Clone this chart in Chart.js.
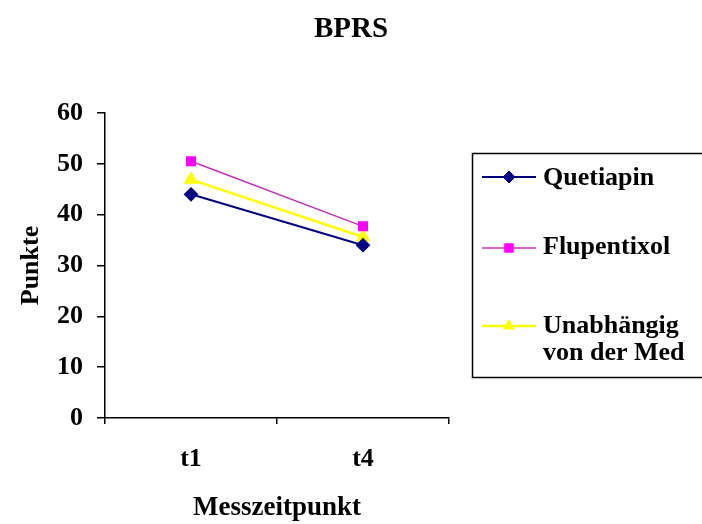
<!DOCTYPE html>
<html>
<head>
<meta charset="utf-8">
<script src="https://cdn.jsdelivr.net/npm/chart.js@4/dist/chart.umd.min.js"></script>
<style>
html,body{margin:0;padding:0;background:#fff;}
#wrap{width:702px;height:524px;}
</style>
</head>
<body>
<div id="wrap"><canvas id="c" width="702" height="524"></canvas></div>
<script>
const categories = ['t1', 't4'];
const quetiapin = [44, 34];
const flupentixol = [50.5, 37.7];
const unabhaengig = [46.9, 35.6];
const seriesNames = ['Quetiapin', 'Flupentixol', 'Unabhängig von der Med'];
const legendLines = [['Quetiapin'], ['Flupentixol'], ['Unabhängig', 'von der Med']];
const chartTitle = 'BPRS';
const yTicks = [0, 10, 20, 30, 40, 50, 60];

const FONT = "'Liberation Serif','Times New Roman',serif";

const boxLegend = {
  id: 'boxLegend',
  afterDraw(chart) {
    const ctx = chart.ctx;
    ctx.save();
    // centered title across the full canvas
    ctx.fillStyle = '#000';
    ctx.font = "bold 29px " + FONT;
    ctx.textAlign = 'center';
    ctx.textBaseline = 'middle';
    ctx.fillText(chartTitle, chart.width / 2, 30);

    ctx.strokeStyle = '#000';
    ctx.lineWidth = 1.5;
    ctx.strokeRect(472.5, 153.5, 240, 224);
    const rows = [{y:177, text:[178]}, {y:248, text:[247]}, {y:326, text:[326, 353]}];
    ctx.font = "bold 26px " + FONT;
    ctx.textBaseline = 'middle';
    ctx.textAlign = 'left';
    chart.data.datasets.forEach((ds, i) => {
      const r = rows[i];
      ctx.strokeStyle = ds.borderColor;
      ctx.lineWidth = ds.borderWidth;
      ctx.beginPath();
      ctx.moveTo(482, r.y);
      ctx.lineTo(536, r.y);
      ctx.stroke();
      ctx.fillStyle = ds.pointBackgroundColor;
      ctx.strokeStyle = ds.pointBorderColor;
      ctx.lineWidth = 1;
      Chart.helpers.drawPoint(ctx, {pointStyle: ds.pointStyle, radius: ds.pointRadius, rotation: 0, borderWidth: 1}, 509, r.y);
      ctx.fillStyle = '#000';
      legendLines[i].forEach((t, k) => ctx.fillText(t, 543, r.text[k]));
    });
    ctx.restore();
  }
};

new Chart(document.getElementById('c'), {
  type: 'line',
  data: {
    labels: categories,
    datasets: [
      {label: seriesNames[0], data: quetiapin, borderColor: '#000080', borderWidth: 2,
       pointStyle: 'rectRot', pointRadius: 6, pointBackgroundColor: '#000080', pointBorderColor: '#000080'},
      {label: seriesNames[1], data: flupentixol, borderColor: '#C030C0', borderWidth: 1.5,
       pointStyle: 'rect', pointRadius: 6, pointBackgroundColor: '#FF00FF', pointBorderColor: '#FF00FF'},
      {label: seriesNames[2], data: unabhaengig, borderColor: '#FFFF00', borderWidth: 2.5,
       pointStyle: 'triangle', pointRadius: 6, pointBackgroundColor: '#FFFF00', pointBorderColor: '#FFFF00'}
    ]
  },
  options: {
    responsive: false,
    animation: false,
    layout: {padding: {left: 0, right: 253, top: 113, bottom: 0}},
    plugins: {
      legend: {display: false},
      tooltip: {enabled: false},
      title: {display: false}
    },
    scales: {
      x: {
        offset: true,
        grid: {offset: true, drawOnChartArea: false, drawTicks: true, tickLength: 6, color: '#000', lineWidth: 1.5},
        border: {color: '#000', width: 1.5},
        ticks: {color: '#000', font: {family: FONT, size: 26, weight: 'bold'}, padding: 20, maxRotation: 0},
        title: {display: true, text: 'Messzeitpunkt', color: '#000', font: {family: FONT, size: 27, weight: 'bold'}, padding: {top: 0, bottom: 0}},
        afterFit(s) { s.height = 106; }
      },
      y: {
        min: 0, max: 60,
        afterBuildTicks(s) { s.ticks = yTicks.map(v => ({value: v})); },
        grid: {drawOnChartArea: false, drawTicks: true, tickLength: 8, color: '#000', lineWidth: 1.5},
        border: {color: '#000', width: 1.5},
        ticks: {color: '#000', font: {family: FONT, size: 26, weight: 'bold'}, padding: 14},
        title: {display: true, text: 'Punkte', color: '#000', font: {family: FONT, size: 26, weight: 'bold'}, padding: {top: 16, bottom: 0}},
        afterFit(s) { s.width = 105; }
      }
    }
  },
  plugins: [boxLegend]
});
</script>
</body>
</html>
